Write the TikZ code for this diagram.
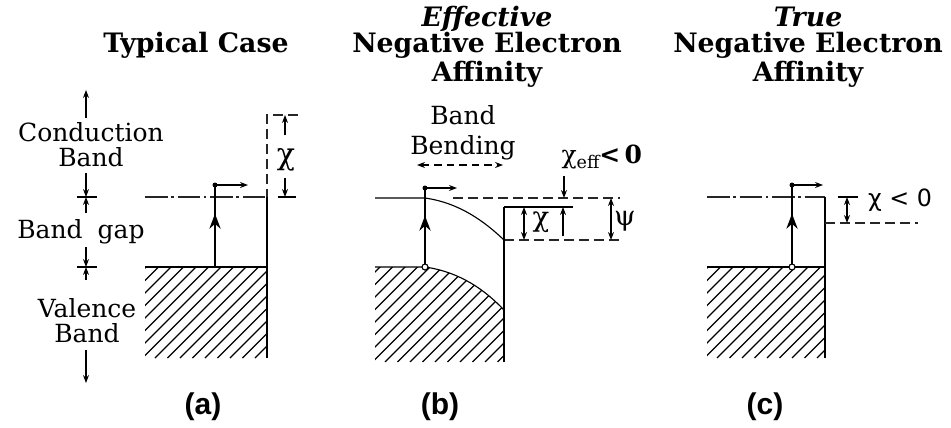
\documentclass[tikz,border=0pt]{standalone}
\usepackage{fontspec}
\setmainfont{DejaVu Serif}
\newfontfamily\panelfont{Liberation Sans}
\newfontfamily\dvsans{DejaVu Sans}
\usetikzlibrary{arrows.meta,decorations.markings}
\begin{document}
\begin{tikzpicture}[x=0.4pt,y=-0.4pt,
  thinline/.style={line width=0.45pt},
  cbline/.style={line width=0.5pt, dash pattern=on 9pt off 1.5pt on 1pt off 1.5pt, black!85},
  vacline/.style={line width=0.45pt, dash pattern=on 4pt off 2pt, black!85},
  surf/.style={line width=0.7pt},
  hatch/.style={line width=0.45pt},
  excite/.style={line width=0.8pt, postaction=decorate,
    decoration={markings, mark=at position 0.65 with {\arrow{Stealth[length=6pt,width=4.5pt]}}}},
  sarrow/.style={line width=0.45pt, -{Stealth[length=3.2pt,width=2.4pt]}},
  dimarrow/.style={line width=0.45pt, {Stealth[length=3.2pt,width=2.4pt]}-{Stealth[length=3.2pt,width=2.4pt]}},
  bbarrow/.style={line width=0.45pt, dash pattern=on 3pt off 2pt, {Stealth[length=3.2pt,width=2.4pt]}-{Stealth[length=3.2pt,width=2.4pt]}},
  title/.style={font=\fontsize{10.7}{10.5}\selectfont\bfseries, align=center, inner sep=0pt},
  lab/.style={font=\fontsize{10}{10}\selectfont, align=center, inner sep=0pt},
  sym/.style={font=\fontsize{11}{11}\selectfont, inner sep=0pt},
  panel/.style={font=\panelfont\fontsize{12}{14}\selectfont\bfseries, inner sep=0pt},
]
\fill[white] (0,0) rectangle (951,427);
\useasboundingbox (0,0) rectangle (951,427);

% ================= Panel (a) =================
\node[title] (ta) at (196,45) {Typical Case};
\node[lab] (cb) at (91,145) {Conduction\\Band};
\node[lab] (bg) at (81,232) {Band\hspace{0.6em}gap};
\node[lab] (vb) at (87,321) {Valence\\Band};

\coordinate (aups) at (86,118); \coordinate (aupe) at (86,90);
\coordinate (acb1) at (86,173); \coordinate (acbe) at (86,197);
\coordinate (abg1) at (86,213);
\coordinate (abg2) at (86,247); \coordinate (avbe) at (86,267);
\coordinate (avb1) at (86,280);
\coordinate (adns) at (86,350); \coordinate (adne) at (86,383);
\coordinate (at1l) at (77,197); \coordinate (at1r) at (97,197);
\coordinate (at2l) at (77,267); \coordinate (at2r) at (97,267);
\draw[sarrow] (aups) -- (aupe);
\draw[sarrow] (acb1) -- (acbe);
\draw[sarrow] (abg1) -- (acbe);
\draw[sarrow] (abg2) -- (avbe);
\draw[sarrow] (avb1) -- (avbe);
\draw[sarrow] (adns) -- (adne);
\draw[thinline] (at1l) -- (at1r);
\draw[thinline] (at2l) -- (at2r);

\coordinate (acbL) at (145,197); \coordinate (acbR) at (267,197);
\coordinate (avac) at (267,115); \coordinate (avacR) at (298,115);
\coordinate (avbL) at (145,267); \coordinate (avbR) at (267,267);
\coordinate (abot) at (267,358);
\begin{scope}
  \clip (avbL) rectangle (abot);
  \foreach \s in {0,...,20} \draw[hatch] ({30+12.5*\s},358) -- ++(110,-110);
\end{scope}
\draw[cbline] (acbL) -- (acbR);
\draw[vacline] (avacR) -- (avac) -- (acbR);
\draw[surf] (acbR) -- (abot);
\draw[thinline] (avbL) -- (avbR);

\coordinate (aex0) at (215,267); \coordinate (aex1) at (215,185); \coordinate (aexR) at (248,185);
\draw[excite] (aex0) -- (aex1);
\draw[sarrow] (aex1) -- (aexR);
\fill (aex1) circle (1pt);

\coordinate (ax1) at (285,135); \coordinate (ax1e) at (285,115);
\coordinate (ax2) at (285,178); \coordinate (ax2e) at (285,197);
\coordinate (axtl) at (278,197); \coordinate (axtr) at (296,197);
\draw[sarrow] (ax1) -- (ax1e);
\draw[sarrow] (ax2) -- (ax2e);
\draw[thinline] (axtl) -- (axtr);
\node[font=\fontsize{12}{12}\selectfont, inner sep=0pt] (achi) at (286,160) {χ};

\node[panel] (pa) at (203,407) {(a)};

% ================= Panel (b) =================
\node[title] (tb) at (487,47) {\textit{Effective}\\Negative Electron\\Affinity};
\node[font=\fontsize{10}{12}\selectfont, align=center, inner sep=0pt] (bb) at (463,133) {Band\\Bending};
\coordinate (bbl) at (417,165); \coordinate (bbr) at (503,165);
\draw[bbarrow] (bbl) -- (bbr);

\coordinate (bcbL) at (375,198); \coordinate (bcbK) at (425,198); \coordinate (bcbS) at (504,240);
\coordinate (bvbL) at (375,267); \coordinate (bvbK) at (425,267); \coordinate (bvbS) at (504,310);
\coordinate (bsurfT) at (504,207); \coordinate (bbot) at (504,362); \coordinate (bbotL) at (375,362);
\coordinate (bvacR) at (573,207);
\begin{scope}
  \clip (bvbL) -- (bvbK) .. controls (460,272) and (485,290) .. (bvbS) -- (bbot) -- (bbotL) -- cycle;
  \foreach \s in {0,...,20} \draw[hatch] ({260+12.5*\s},362) -- ++(110,-110);
\end{scope}
\draw[thinline] (bvbL) -- (bvbK) .. controls (460,272) and (485,290) .. (bvbS);
\draw[thinline] (bcbL) -- (bcbK) .. controls (460,203) and (485,222) .. (bcbS);
\coordinate (bd1L) at (453,198); \coordinate (bd1R) at (620,198);
\coordinate (bd2R) at (622,240);
\draw[vacline] (bd1L) -- (bd1R);
\draw[vacline] (bcbS) -- (bd2R);
\draw[surf] (bsurfT) -- (bbot);
\draw[thinline] (bsurfT) -- (bvacR);

\coordinate (bxa) at (524,207); \coordinate (bxb) at (524,240);
\draw[dimarrow] (bxa) -- (bxb);
\node[sym] (bchi) at (541,222) {χ};
\coordinate (bua) at (563,236); \coordinate (bub) at (563,207);
\draw[sarrow] (bua) -- (bub);
\coordinate (bea) at (564,176); \coordinate (beb) at (564,198);
\draw[sarrow] (bea) -- (beb);
\node[font=\fontsize{10}{10}\selectfont, inner sep=0pt, anchor=west] (bchieff) at (561,157) {χ\textsubscript{eff}\kern-0.5pt\textbf{<\,0}};
\coordinate (bpa) at (611,198); \coordinate (bpb) at (611,240);
\draw[dimarrow] (bpa) -- (bpb);
\node[sym] (bpsi) at (625,221) {ψ};

\coordinate (bex0) at (425,267); \coordinate (bex1) at (425,188); \coordinate (bexR) at (457,188);
\draw[excite] (bex0) -- (bex1);
\draw[sarrow] (bex1) -- (bexR);
\fill (bex1) circle (1pt);
\draw[thinline, fill=white] (bex0) circle (1.2pt);

\node[panel] (pb) at (440,407) {(b)};

% ================= Panel (c) =================
\node[title] (tc) at (808,47) {\textit{True}\\Negative Electron\\Affinity};
\coordinate (ccbL) at (707,197); \coordinate (ccbR) at (825,197);
\coordinate (cvbL) at (707,267); \coordinate (cvbR) at (825,267);
\coordinate (cbot) at (825,358);
\coordinate (cvac) at (825,223); \coordinate (cvacR) at (918,223);
\begin{scope}
  \clip (cvbL) rectangle (cbot);
  \foreach \s in {0,...,20} \draw[hatch] ({592+12.5*\s},358) -- ++(110,-110);
\end{scope}
\draw[cbline] (ccbL) -- (ccbR);
\draw[surf] (ccbR) -- (cbot);
\draw[thinline] (cvbL) -- (cvbR);
\draw[vacline] (cvac) -- (cvacR);

\coordinate (cxa) at (847,197); \coordinate (cxb) at (847,223);
\coordinate (cxtl) at (838,197); \coordinate (cxtr) at (858,197);
\draw[dimarrow] (cxa) -- (cxb);
\draw[thinline] (cxtl) -- (cxtr);
\node[font=\dvsans\fontsize{9.5}{10}\selectfont, inner sep=0pt] (cchi) at (900,200) {χ < 0};

\coordinate (cex0) at (792,267); \coordinate (cex1) at (792,185); \coordinate (cexR) at (823,185);
\draw[excite] (cex0) -- (cex1);
\draw[sarrow] (cex1) -- (cexR);
\fill (cex1) circle (1pt);
\draw[thinline, fill=white] (cex0) circle (1.2pt);

\node[panel] (pc) at (765,407) {(c)};
\end{tikzpicture}
\end{document}
